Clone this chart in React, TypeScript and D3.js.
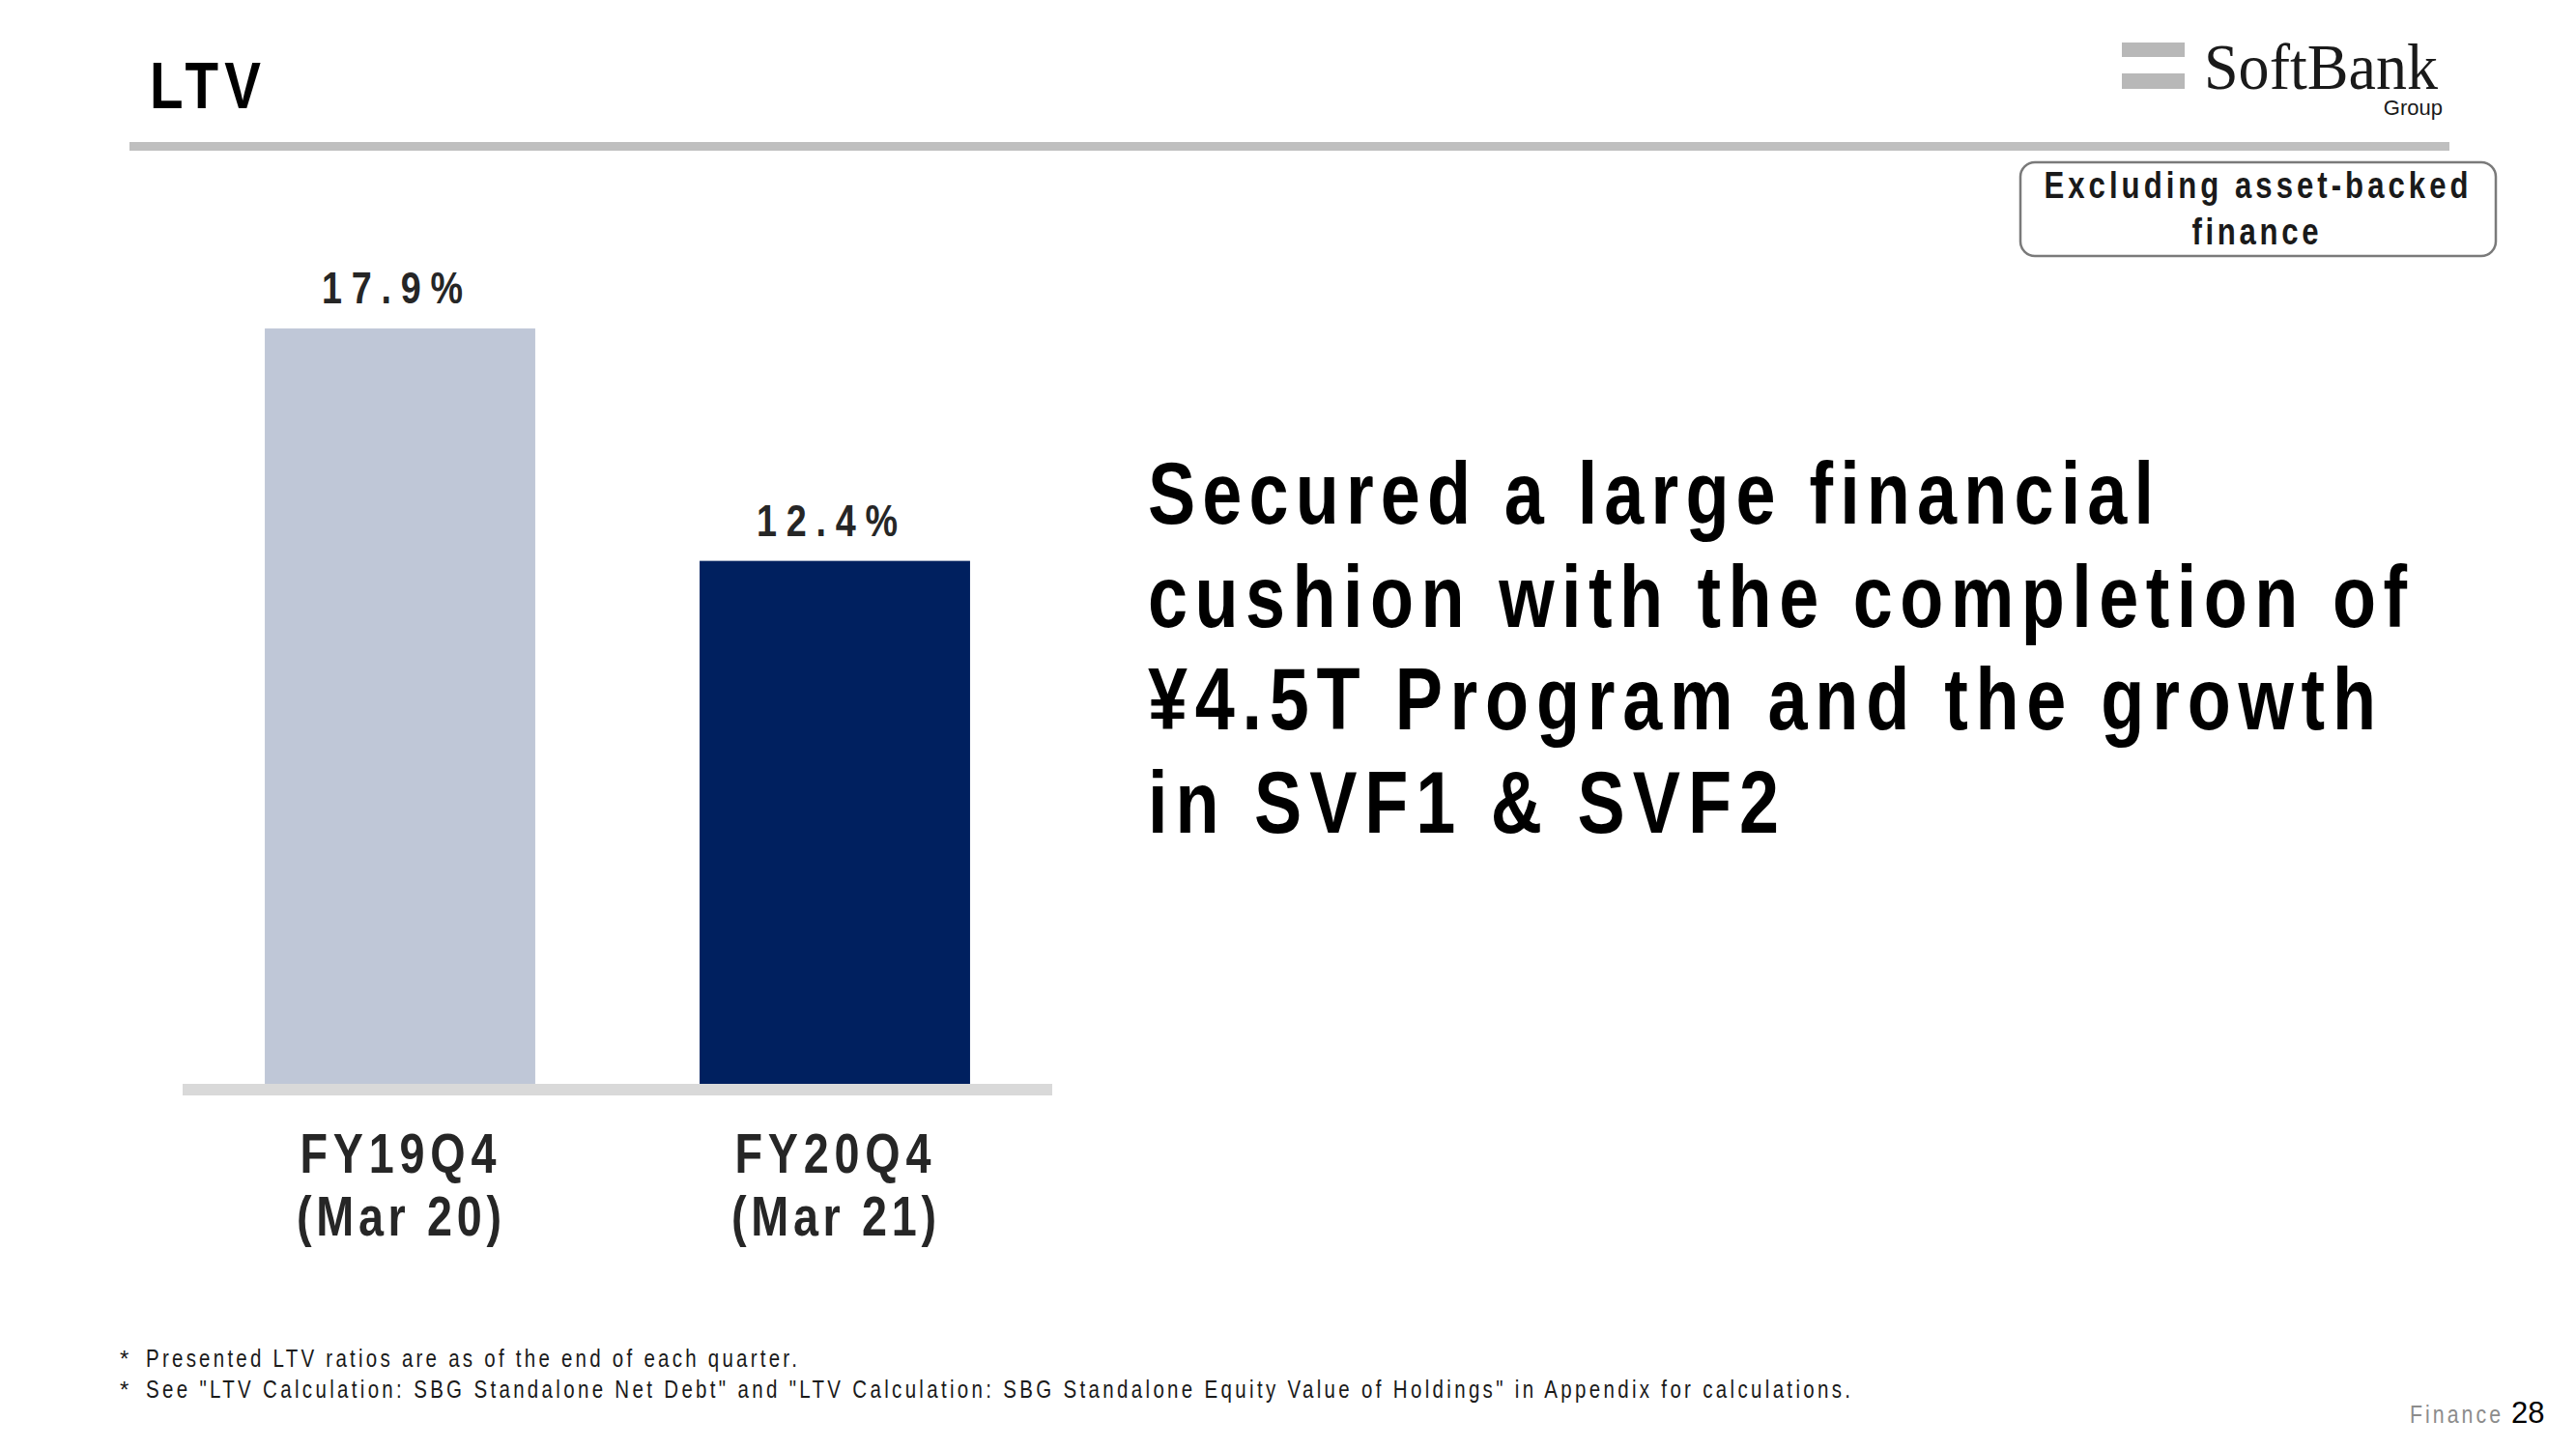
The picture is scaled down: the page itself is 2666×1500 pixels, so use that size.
import * as d3 from 'd3';

// chart data
const categories = ['FY19Q4', 'FY20Q4'];
const periods = ['(Mar 20)', '(Mar 21)'];
const ltvValues = [17.9, 12.4];
const barColors = ['#bfc7d7', '#00205f'];

const headline = [
  'Secured a large financial',
  'cushion with the completion of',
  '¥4.5T Program and the growth',
  'in SVF1 & SVF2',
];
const headlineWidths = [1041, 1303, 1271, 653];

const footnotes = [
  'Presented LTV ratios are as of the end of each quarter.',
  'See "LTV Calculation: SBG Standalone Net Debt" and "LTV Calculation: SBG Standalone Equity Value of Holdings" in Appendix for calculations.',
];
const footnoteWidths = [674, 1764];

const W = 2666;
const H = 1500;
const SANS = "'Liberation Sans', Arial, Helvetica, sans-serif";
const SQUEEZE = 0.82; // no Arial Narrow installed, so squeeze Liberation Sans

// condensed text: squeezed glyphs, spacing stretched to the measured width
const NText = ({ x, y, size, width, anchor = 'start', bold = true, fill = '#1a1a1a', children }: any) => (
  <text
    transform={`translate(${x},${y}) scale(${SQUEEZE},1)`}
    textAnchor={anchor}
    fontFamily={SANS}
    fontWeight={bold ? 'bold' : 'normal'}
    fontSize={size}
    fill={fill}
    textLength={width / SQUEEZE}
    lengthAdjust="spacing"
  >
    {children}
  </text>
);

const App = () => {
  const baseline = 1123;

  const x = d3.scaleBand<string>()
    .domain(categories)
    .range([189, 1089])
    .paddingInner(0.378)
    .paddingOuter(0.189);

  const y = d3.scaleLinear()
    .domain([0, 20])
    .range([baseline, baseline - 20 * 43.74]);

  const cx = (c: string) => (x(c) || 0) + x.bandwidth() / 2;

  return (
    <svg width={W} height={H} style={{ position: 'absolute', left: 0, top: 0, display: 'block', background: '#fff' }}>
      {/* page title */}
      <NText x={155} y={112} size={69} width={115} fill="#000">LTV</NText>
      <rect x={134} y={147} width={2401} height={9} fill="#bfbfbf" />

      {/* logo */}
      <rect x={2196} y={44} width={65} height={15} fill="#b8b8b8" />
      <rect x={2196} y={76} width={65} height={16} fill="#b8b8b8" />
      <text x={2281} y={92} fontFamily="'Liberation Serif', 'DejaVu Serif', serif" fontSize={68} fill="#1a1a1a" textLength={242} lengthAdjust="spacingAndGlyphs">SoftBank</text>
      <text x={2528} y={119} textAnchor="end" fontFamily={SANS} fontSize={22} fill="#1a1a1a">Group</text>

      {/* note box */}
      <rect x={2091} y={168} width={492} height={97} rx={15} ry={15} fill="#fff" stroke="#7a7a7a" strokeWidth={2.5} />
      <NText x={2335} y={205} size={38} width={439} anchor="middle">Excluding asset-backed</NText>
      <NText x={2334} y={253} size={38} width={131} anchor="middle">finance</NText>

      {/* bars */}
      {categories.map((c, i) => (
        <g key={c}>
          <rect
            x={x(c)}
            y={y(ltvValues[i])}
            width={x.bandwidth()}
            height={baseline - y(ltvValues[i])}
            fill={barColors[i]}
          />
          <NText x={cx(c) - 8} y={y(ltvValues[i]) - 26} size={46} width={146} anchor="middle" fill="#262626">
            {ltvValues[i].toFixed(1)}%
          </NText>
          <NText x={cx(c) - 2} y={1214} size={57} width={203} anchor="middle" fill="#262626">
            {c}
          </NText>
          <NText x={cx(c) - 1} y={1279} size={57} width={212} anchor="middle" fill="#262626">
            {periods[i]}
          </NText>
        </g>
      ))}
      <rect x={189} y={baseline - 1} width={900} height={12} fill="#d9d9d9" />

      {/* headline */}
      {headline.map((line, i) => (
        <NText key={line} x={1188} y={542 + i * 106.7} size={90} width={headlineWidths[i]} fill="#000">
          {line}
        </NText>
      ))}

      {/* footnotes */}
      {footnotes.map((note, i) => (
        <g key={note}>
          <text x={124} y={1415 + i * 32} fontFamily={SANS} fontSize={24} fill="#1a1a1a">*</text>
          <NText x={151} y={1415 + i * 32} size={25} width={footnoteWidths[i]} bold={false}>
            {note}
          </NText>
        </g>
      ))}

      {/* page number */}
      <NText x={2494} y={1473} size={26} width={94} bold={false} fill="#8c8c8c">Finance</NText>
      <text x={2599} y={1473} fontFamily={SANS} fontSize={31} fill="#000">28</text>
    </svg>
  );
};

export default App;
